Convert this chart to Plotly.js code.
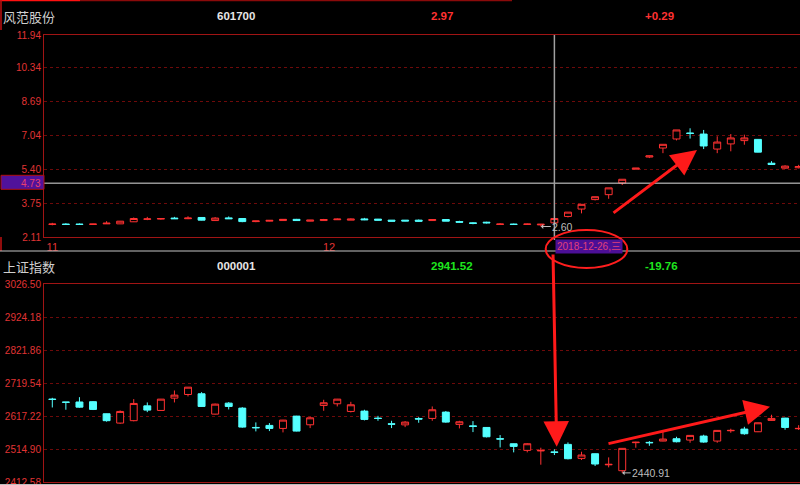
<!DOCTYPE html>
<html>
<head>
<meta charset="utf-8">
<script src="https://cdn.plot.ly/plotly-3.0.1.min.js"></script>
<style>
html,body{margin:0;padding:0;background:#000;}
#chart{width:800px;height:485px;}
</style>
</head>
<body>
<div id="chart"></div>
<script>
// ---- 风范股份 601700 (top panel) ----
var stockName = '风范股份';
var stockCode = '601700';
var stockPrice = '2.97';
var stockChange = '+0.29';
var stockOpen  = [2.72,2.74,2.74,2.72,2.75,2.75,2.85,2.97,2.98,3.03,3.00,3.06,2.91,3.04,3.01,2.86,2.88,2.91,2.97,2.88,2.91,2.95,2.93,2.99,2.98,2.93,2.93,2.93,2.91,2.96,2.86,2.80,2.83,2.72,2.74,2.72,2.70,2.80,3.11,3.47,3.93,4.17,4.74,5.41,6.00,6.44,6.88,7.17,7.12,6.39,6.64,6.80,6.86,5.70,5.46,5.48];
var stockHigh  = [2.80,2.78,2.77,2.75,2.88,2.89,3.06,3.09,3.01,3.09,3.12,3.07,3.08,3.11,3.01,2.90,2.93,2.98,2.99,2.94,2.99,3.01,3.01,3.04,2.99,2.93,2.93,2.96,2.96,2.96,2.90,2.83,2.85,2.78,2.76,2.76,2.74,3.02,3.32,3.70,4.07,4.50,4.92,5.46,6.07,6.62,7.32,7.40,7.32,7.01,7.12,7.09,6.88,5.80,5.60,5.62];
var stockLow   = [2.68,2.70,2.70,2.71,2.75,2.74,2.84,2.93,2.95,2.99,2.98,2.92,2.90,2.99,2.83,2.83,2.87,2.90,2.89,2.87,2.90,2.94,2.93,2.93,2.91,2.88,2.88,2.86,2.90,2.88,2.81,2.73,2.77,2.70,2.70,2.70,2.62,2.72,3.06,3.26,3.89,3.97,4.64,5.41,5.95,6.19,6.81,6.90,6.39,6.19,6.28,6.60,6.23,5.64,5.43,5.45];
var stockClose = [2.74,2.72,2.72,2.74,2.78,2.88,3.01,2.99,3.01,3.00,3.03,2.93,3.03,3.00,2.86,2.89,2.92,2.97,2.91,2.93,2.96,2.98,2.98,2.95,2.93,2.88,2.89,2.88,2.96,2.88,2.83,2.77,2.80,2.74,2.72,2.74,2.73,3.01,3.32,3.70,4.07,4.50,4.92,5.46,6.06,6.62,7.32,7.15,6.54,6.73,6.93,6.93,6.24,5.64,5.56,5.54];
var stockTicks = [2.11,3.75,5.40,7.04,8.69,10.34,11.94];
var stockLine = 4.73;
var stockLowLabel = '2.60';
var stockLowIndex = 36;

// ---- 上证指数 000001 (bottom panel) ----
var indexName = '上证指数';
var indexCode = '000001';
var indexValue = '2941.52';
var indexChange = '-19.76';
var indexOpen  = [2670,2661,2661,2662,2624.5,2595.5,2603,2649,2634.8,2673,2684.4,2686.5,2623.4,2657.5,2642,2582,2588.3,2579,2617.2,2590.3,2650.3,2655.5,2631.7,2632.7,2611,2593.4,2590,2609.8,2610,2629.6,2591.4,2587,2582,2547,2531.4,2510.8,2509,2506,2529.4,2485.9,2500.4,2466,2447.7,2534.7,2535.6,2539.7,2546.9,2542.8,2555.2,2539.7,2571.7,2576.9,2568.6,2603.8,2611,2578];
var indexHigh  = [2674,2661,2676,2664,2625,2634.8,2670,2659.6,2670.5,2696.8,2707.5,2691.6,2656,2660.6,2645,2597.6,2595.5,2605.5,2618,2615,2667.9,2670.5,2661.6,2636.9,2618,2602.7,2601.7,2614,2647.2,2633,2602.7,2601.7,2583,2558.3,2532,2533,2519,2513.9,2535.6,2506.6,2501,2489,2517.5,2537.6,2539.7,2573.8,2553,2558,2559.3,2573.5,2578,2584,2597,2621.4,2612,2589];
var indexLow   = [2644,2637,2643,2636,2600,2593.4,2601,2629.6,2634,2659.6,2678.2,2646,2622,2637.9,2581,2569.7,2570.7,2566.6,2569.7,2580,2633.7,2647.2,2628.6,2603.8,2602.7,2580,2583,2596.5,2602.7,2596.5,2579,2567.6,2551,2520,2504.6,2504.6,2466.3,2496.3,2482.8,2480.8,2462.2,2458,2440.91,2519,2525,2539,2535.6,2534.5,2534.5,2534.5,2565.5,2559.3,2567.6,2603,2574.9,2574];
var indexClose = [2669,2660,2645,2638,2603,2631.7,2656.5,2635.8,2669.9,2682.3,2707.1,2647.2,2654.4,2647.2,2583.1,2581,2579,2604.8,2570.7,2611.9,2658.6,2669.9,2652.4,2606.9,2609.8,2592,2598.6,2608,2636.9,2598.6,2599.6,2585,2553,2545.9,2523.2,2531.4,2510.8,2504.6,2484.9,2496.3,2468.4,2467.4,2517,2536,2534.5,2545.9,2537.6,2557.3,2536.6,2572.8,2572.8,2562.4,2596.5,2610,2582,2579];
var indexTicks = [2412.58,2514.90,2617.22,2719.54,2821.86,2924.18,3026.50];
var indexLowLabel = '2440.91';
var indexLowIndex = 42;

// ---- shared x ----
var monthTickPos = [0, 20.4];
var monthTickText = ['11','12'];
var cursorIndex = 37;
var cursorDate = '2018-12-26,三';

var xs = stockOpen.map(function(_, i){ return i; });

var RED = '#ff3232', CYAN = '#54ffff';
var AXIS = '#a01414', GRID = '#6e0a0a', TICK = '#e03434';
var W = 800, H = 485, L = 44;
function px(x){ return (x - L) / (W - L); }
function py(y){ return 1 - y / H; }

function candle(o,h,l,c,xa,ya){
  return {
    type:'candlestick', x: xs, open:o, high:h, low:l, close:c,
    xaxis: xa, yaxis: ya, whiskerwidth: 0, hoverinfo:'skip',
    increasing:{line:{color:RED,width:1}, fillcolor:'#000000'},
    decreasing:{line:{color:CYAN,width:1}, fillcolor:CYAN},
    showlegend:false
  };
}

var data = [
  candle(stockOpen, stockHigh, stockLow, stockClose, 'x', 'y'),
  candle(indexOpen, indexHigh, indexLow, indexClose, 'x2', 'y2')
];

var xr = [-0.612, 55.1];
var tickFont = {family:'Liberation Sans, Arial, sans-serif', size:10, color:TICK};

var layout = {
  width: W, height: H,
  paper_bgcolor:'#000', plot_bgcolor:'#000',
  margin:{l:L, r:0, t:0, b:0},
  showlegend:false, hovermode:false, dragmode:false,
  boxgap:0.27,
  font:{family:'Liberation Sans, Arial, sans-serif'},
  xaxis:{domain:[0,1], anchor:'y', range:xr, showgrid:false, zeroline:false,
    showline:true, mirror:true, linecolor:AXIS, linewidth:1,
    tickmode:'array', tickvals:monthTickPos, ticktext:monthTickText, ticks:'',
    tickfont:{family:'Liberation Sans, Arial, sans-serif', size:11, color:TICK},
    rangeslider:{visible:false}, fixedrange:true},
  yaxis:{domain:[py(237), py(35)], anchor:'x', range:[stockTicks[0], stockTicks[stockTicks.length-1]],
    tickmode:'array', tickvals:stockTicks, ticktext:stockTicks.map(function(v){return v.toFixed(2);}),
    showgrid:true, gridcolor:GRID, griddash:'dot', gridwidth:1, zeroline:false, ticklabeloverflow:'allow',
    showline:true, mirror:true, linecolor:AXIS, linewidth:1, ticks:'', tickfont:tickFont, fixedrange:true},
  xaxis2:{domain:[0,1], anchor:'y2', range:xr, showgrid:false, zeroline:false,
    showline:true, mirror:true, linecolor:AXIS, linewidth:1, showticklabels:false, ticks:'',
    rangeslider:{visible:false}, fixedrange:true},
  yaxis2:{domain:[py(482), py(284.3)], anchor:'x2', range:[indexTicks[0], indexTicks[indexTicks.length-1]],
    tickmode:'array', tickvals:indexTicks, ticktext:indexTicks.map(function(v){return v.toFixed(2);}),
    showgrid:true, gridcolor:GRID, griddash:'dot', gridwidth:1, zeroline:false, ticklabeloverflow:'allow',
    showline:true, mirror:true, linecolor:AXIS, linewidth:1, ticks:'', tickfont:tickFont, fixedrange:true},
  shapes:[
    {type:'line', xref:'paper', yref:'paper', x0:px(0), x1:px(80), y0:py(0.5), y1:py(0.5), line:{color:'#ff1010', width:1.5}},
    {type:'line', xref:'paper', yref:'paper', x0:px(80), x1:px(512), y0:py(0.5), y1:py(0.5), line:{color:'#8a0a0a', width:1.5}},
    {type:'line', xref:'paper', yref:'paper', x0:px(1), x1:px(1), y0:py(0), y1:py(30), line:{color:'#c01010', width:1.5}},
    {type:'line', xref:'paper', yref:'paper', x0:px(1), x1:px(1), y0:py(237), y1:py(251), line:{color:'#c01010', width:1.5}},
    {type:'line', xref:'paper', yref:'paper', x0:px(0), x1:1, y0:py(251), y1:py(251), line:{color:'#c4c4c4', width:1.2}},
    {type:'line', xref:'paper', yref:'paper', x0:px(0), x1:1, y0:py(484.5), y1:py(484.5), line:{color:'#bdbdbd', width:1}},
    {type:'line', xref:'paper', yref:'y', x0:0, x1:1, y0:stockLine, y1:stockLine, line:{color:'#e0e0e0', width:1}},
    {type:'rect', xref:'paper', yref:'paper', x0:px(1), x1:0, y0:py(189.3), y1:py(175.3), fillcolor:'#50129a', line:{color:'#b01010', width:1}},
    {type:'line', xref:'x', yref:'paper', x0:cursorIndex, x1:cursorIndex, y0:py(240), y1:py(35), line:{color:'#a0a0a0', width:1.5}},
    {type:'circle', xref:'paper', yref:'paper', x0:px(545.7), x1:px(627.3), y0:py(268), y1:py(230), line:{color:'#ff1e1e', width:2}}
  ],
  annotations:[
    {xref:'paper', yref:'paper', x:px(1), y:py(17), xanchor:'left', yanchor:'middle', showarrow:false,
     text:stockName, font:{family:'Noto Sans CJK SC', size:13, color:'#cfcfcf'}},
    {xref:'paper', yref:'paper', x:px(215), y:py(16.5), xanchor:'left', yanchor:'middle', showarrow:false,
     text:'<b>'+stockCode+'</b>', font:{size:11.5, color:'#e6e6e6'}},
    {xref:'paper', yref:'paper', x:px(429), y:py(16.5), xanchor:'left', yanchor:'middle', showarrow:false,
     text:'<b>'+stockPrice+'</b>', font:{size:11.5, color:'#ff3232'}},
    {xref:'paper', yref:'paper', x:px(643), y:py(16.5), xanchor:'left', yanchor:'middle', showarrow:false,
     text:'<b>'+stockChange+'</b>', font:{size:11.5, color:'#ff3232'}},
    {xref:'paper', yref:'paper', x:px(1), y:py(266.3), xanchor:'left', yanchor:'middle', showarrow:false,
     text:indexName, font:{family:'Noto Sans CJK SC', size:13, color:'#cfcfcf'}},
    {xref:'paper', yref:'paper', x:px(215), y:py(266.3), xanchor:'left', yanchor:'middle', showarrow:false,
     text:'<b>'+indexCode+'</b>', font:{size:11.5, color:'#e6e6e6'}},
    {xref:'paper', yref:'paper', x:px(429), y:py(266.3), xanchor:'left', yanchor:'middle', showarrow:false,
     text:'<b>'+indexValue+'</b>', font:{size:11.5, color:'#1ee61e'}},
    {xref:'paper', yref:'paper', x:px(643), y:py(266.3), xanchor:'left', yanchor:'middle', showarrow:false,
     text:'<b>'+indexChange+'</b>', font:{size:11.5, color:'#1ee61e'}},
    {xref:'paper', yref:'y', x:0, y:stockLine, xanchor:'right', yanchor:'middle', xshift:-1, showarrow:false,
     text:stockLine.toFixed(2), font:{size:10, color:'#e8406e'}},
    {xref:'x', yref:'paper', x:cursorIndex, y:py(246), xanchor:'left', yanchor:'middle', xshift:1, showarrow:false,
     text:cursorDate, bgcolor:'#4c0f96', borderpad:1, font:{family:'Liberation Sans, Noto Sans CJK SC', size:10, color:'#e0407a'}},
    // low labels with small grey arrows
    {xref:'x', yref:'y', x:stockLowIndex, y:stockLow[stockLowIndex], ax:22, ay:0, showarrow:true,
     arrowhead:1, arrowsize:0.8, arrowwidth:1, arrowcolor:'#bcbcbc', standoff:0,
     text:stockLowLabel, font:{size:10.5, color:'#bcbcbc'}},
    {xref:'x', yref:'y2', x:indexLowIndex, y:indexLow[indexLowIndex], ax:29, ay:0, showarrow:true,
     arrowhead:1, arrowsize:0.8, arrowwidth:1, arrowcolor:'#bcbcbc', standoff:0,
     text:indexLowLabel, font:{size:10.5, color:'#bcbcbc'}},
    // red hand-drawn arrows
    {xref:'paper', yref:'paper', x:px(697), y:py(150), ax:-85, ay:64, text:'', showarrow:true,
     arrowhead:2, arrowsize:1.7, arrowwidth:3, arrowcolor:'#ff1a1a'},
    {xref:'paper', yref:'paper', x:px(556.7), y:py(446.7), ax:-3.7, ay:-193.7, text:'', showarrow:true,
     arrowhead:2, arrowsize:1.7, arrowwidth:3, arrowcolor:'#ff1a1a'},
    {xref:'paper', yref:'paper', x:px(770), y:py(406.7), ax:-163, ay:37.3, text:'', showarrow:true,
     arrowhead:2, arrowsize:1.7, arrowwidth:3, arrowcolor:'#ff1a1a'}
  ]
};

Plotly.newPlot('chart', data, layout, {displayModeBar:false, staticPlot:true});
</script>
</body>
</html>
